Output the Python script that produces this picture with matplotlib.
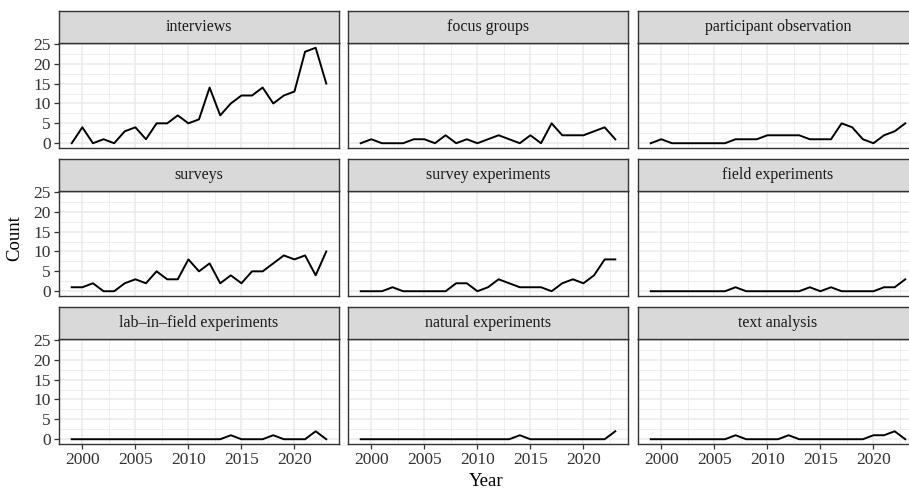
import matplotlib.pyplot as plt

plt.rcParams['font.family'] = ['Liberation Serif', 'DejaVu Serif']

years = [1999, 2000, 2001, 2002, 2003, 2004, 2005, 2006, 2007, 2008, 2009, 2010,
         2011, 2012, 2013, 2014, 2015, 2016, 2017, 2018, 2019, 2020, 2021, 2022, 2023]

methods = ["interviews", "focus groups", "participant observation",
           "surveys", "survey experiments", "field experiments",
           "lab\u2013in\u2013field experiments", "natural experiments", "text analysis"]

interviews = [0, 4, 0, 1, 0, 3, 4, 1, 5, 5, 7, 5, 6, 14, 7, 10, 12, 12, 14, 10, 12, 13, 23, 24, 15]
focus_groups = [0, 1, 0, 0, 0, 1, 1, 0, 2, 0, 1, 0, 1, 2, 1, 0, 2, 0, 5, 2, 2, 2, 3, 4, 1]
participant_obs = [0, 1, 0, 0, 0, 0, 0, 0, 1, 1, 1, 2, 2, 2, 2, 1, 1, 1, 5, 4, 1, 0, 2, 3, 5]
surveys = [1, 1, 2, 0, 0, 2, 3, 2, 5, 3, 3, 8, 5, 7, 2, 4, 2, 5, 5, 7, 9, 8, 9, 4, 10]
survey_exp = [0, 0, 0, 1, 0, 0, 0, 0, 0, 2, 2, 0, 1, 3, 2, 1, 1, 1, 0, 2, 3, 2, 4, 8, 8]
field_exp = [0, 0, 0, 0, 0, 0, 0, 0, 1, 0, 0, 0, 0, 0, 0, 1, 0, 1, 0, 0, 0, 0, 1, 1, 3]
lab_in_field = [0, 0, 0, 0, 0, 0, 0, 0, 0, 0, 0, 0, 0, 0, 0, 1, 0, 0, 0, 1, 0, 0, 0, 2, 0]
natural_exp = [0, 0, 0, 0, 0, 0, 0, 0, 0, 0, 0, 0, 0, 0, 0, 1, 0, 0, 0, 0, 0, 0, 0, 0, 2]
text_analysis = [0, 0, 0, 0, 0, 0, 0, 0, 1, 0, 0, 0, 0, 1, 0, 0, 0, 0, 0, 0, 0, 1, 1, 2, 0]

series = [interviews, focus_groups, participant_obs, surveys, survey_exp,
          field_exp, lab_in_field, natural_exp, text_analysis]

W, H = 909, 491
col_left = [59, 348, 638]
panel_w = 280
strip_top = [11, 159, 307]
strip_h = 32
panel_h = 105


def rect(x, y, w, h):
    # pixel box (top-left origin) -> figure fraction
    return [x / W, 1 - (y + h) / H, w / W, h / H]


fig = plt.figure(figsize=(W / 100, H / 100), dpi=100)

for i, (name, counts) in enumerate(zip(methods, series)):
    r, c = divmod(i, 3)
    ax = fig.add_axes(rect(col_left[c], strip_top[r] + strip_h, panel_w, panel_h))
    ax.plot(years, counts, color='black', lw=1.4, zorder=3)
    ax.set_xlim(1997.8, 2024.2)
    ax.set_ylim(-1.2, 25.2)
    ax.set_xticks([2000, 2005, 2010, 2015, 2020])
    ax.set_xticks([2002.5, 2007.5, 2012.5, 2017.5, 2022.5], minor=True)
    ax.set_yticks([0, 5, 10, 15, 20, 25])
    ax.set_yticks([2.5, 7.5, 12.5, 17.5, 22.5], minor=True)
    ax.grid(which='major', color='#EBEBEB', lw=1.1)
    ax.grid(which='minor', color='#EBEBEB', lw=0.55)
    ax.set_axisbelow(True)
    for s in ax.spines.values():
        s.set_color('#333333')
        s.set_linewidth(1.0)
    ax.tick_params(which='major', length=3.8, width=0.9, color='#333333',
                   labelsize=12.5, labelcolor='#333333', pad=2)
    ax.tick_params(which='minor', length=0)
    if c != 0:
        ax.tick_params(axis='y', which='major', length=0, labelleft=False)
    if r != 2:
        ax.tick_params(axis='x', which='major', length=0, labelbottom=False)

    sax = fig.add_axes(rect(col_left[c], strip_top[r], panel_w, strip_h))
    sax.set_facecolor('#D9D9D9')
    sax.set_xticks([])
    sax.set_yticks([])
    for s in sax.spines.values():
        s.set_color('#333333')
        s.set_linewidth(1.0)
    sax.text(0.5, 0.5, name, ha='center', va='center', fontsize=11.5,
             color='#1A1A1A', transform=sax.transAxes)

fig.text(14.5 / W, 1 - 238 / H, "Count", rotation=90, ha='center', va='center',
         fontsize=13.5, color='black')
fig.text(486 / W, 1 - 482 / H, "Year", ha='center', va='center',
         fontsize=13.5, color='black')

fig.savefig("out.png", dpi=100)
